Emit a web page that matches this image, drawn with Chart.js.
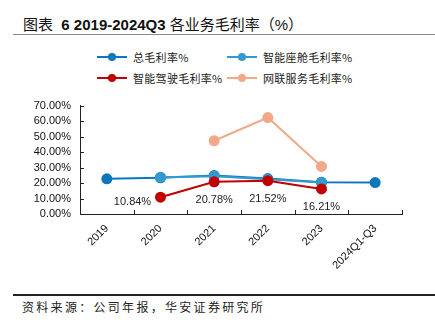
<!DOCTYPE html>
<html>
<head>
<meta charset="utf-8">
<script src="https://cdn.jsdelivr.net/npm/chart.js@4.4.0/dist/chart.umd.min.js"></script>
<style>
  body { margin: 0; width: 435px; height: 328px; background: #fff; position: relative; overflow: hidden;
         font-family: "Liberation Sans", "Noto Sans CJK SC", sans-serif; }
  #title { position: absolute; left: 23px; top: 13px; font-size: 15px; font-weight: bold; color: #111; white-space: nowrap; }
  #title .cn { font-weight: normal; }
  #topline { position: absolute; left: 13px; right: 0; top: 34px; height: 1px; background: #8a8a8a; }
  #botline { position: absolute; left: 13px; right: 0; top: 294px; height: 1.5px; background: #222; }
  #source { position: absolute; left: 22px; top: 298px; font-size: 12px; letter-spacing: 2.3px; color: #222;
            font-family: "Noto Sans CJK SC", sans-serif; }
  #legend { position: absolute; left: 0; top: 0; }
  .item { position: absolute; height: 14px; display: flex; align-items: center; font-size: 11px;
          font-family: "Noto Sans CJK SC", sans-serif; color: #222; white-space: nowrap; letter-spacing: 0.3px; }
  .mk { position: relative; width: 30px; height: 14px; margin-right: 6px; }
  .mk .ln { position: absolute; left: 0; right: 0; top: 6px; height: 2px; }
  .mk .dt { position: absolute; left: 11px; top: 3px; width: 8px; height: 8px; border-radius: 50%; }
  #wrap { position: absolute; left: 0; top: 90px; width: 435px; height: 200px; }
</style>
</head>
<body>
<div id="title"><span class="cn">图表</span>&nbsp; 6 2019-2024Q3 <span class="cn">各业务毛利率（%）</span></div>
<div id="topline"></div>
<div id="legend"></div>
<div id="wrap"><canvas id="c"></canvas></div>
<div id="botline"></div>
<div id="source">资料来源：公司年报，华安证券研究所</div>
<script>
const years = ['2019', '2020', '2021', '2022', '2023', '2024Q1-Q3'];
const totalMargin = [22.7, 23.4, 24.8, 22.9, 20.5, 20.3];
const cockpitMargin = [null, 23.8, 24.3, 22.4, 20.4, null];
const drivingMargin = [null, 10.84, 20.78, 21.52, 16.21, null];
const serviceMargin = [null, null, 47.3, 62.3, 30.7, null];
const yTicks = [0, 10, 20, 30, 40, 50, 60, 70];

const seriesNames = ['总毛利率%', '智能座舱毛利率%', '智能驾驶毛利率%', '网联服务毛利率%'];
const seriesColors = ['#0B78BD', '#3599D0', '#C00000', '#F2A98A'];
const seriesData = [totalMargin, cockpitMargin, drivingMargin, serviceMargin];
const drawOrder = [3, 2, 1, 1];

// legend, two columns
const legendPos = [[97, 50], [227, 50], [97, 71], [227, 71]];
const legend = document.getElementById('legend');
seriesNames.forEach(function (name, i) {
  const el = document.createElement('div');
  el.className = 'item';
  el.style.left = legendPos[i][0] + 'px';
  el.style.top = legendPos[i][1] + 'px';
  el.innerHTML = '<div class="mk"><div class="ln" style="background:' + seriesColors[i] +
    '"></div><div class="dt" style="background:' + seriesColors[i] + '"></div></div>' + name;
  legend.appendChild(el);
});

// inward ticks on both axes
const axisTicks = {
  id: 'axisTicks',
  afterDraw(chart) {
    const ctx = chart.ctx;
    const x = chart.scales.x, y = chart.scales.y;
    ctx.save();
    ctx.strokeStyle = '#222';
    ctx.lineWidth = 1;
    ctx.beginPath();
    yTicks.forEach(function (v) {
      const py = Math.round(y.getPixelForValue(v)) + 0.5;
      ctx.moveTo(x.left, py);
      ctx.lineTo(x.left + 4, py);
    });
    for (let i = 0; i < years.length; i++) {
      const px = Math.round((x.getPixelForTick(i) + (i + 1 < years.length ? x.getPixelForTick(i + 1) : x.right * 2 - x.getPixelForTick(i))) / 2) + 0.5;
      ctx.moveTo(px, y.bottom);
      ctx.lineTo(px, y.bottom - 4);
    }
    ctx.stroke();
    ctx.restore();
  }
};

// value labels under the driving series
const drivingLabels = {
  id: 'drivingLabels',
  afterDatasetsDraw(chart) {
    const ctx = chart.ctx;
    const meta = chart.getDatasetMeta(2);
    ctx.save();
    ctx.font = '11px "Liberation Sans", Arial, sans-serif';
    ctx.fillStyle = '#222';
    ctx.textAlign = 'center';
    ctx.textBaseline = 'middle';
    meta.data.forEach(function (pt, i) {
      const v = drivingMargin[i];
      if (v == null) return;
      let dx = 0, dy = 18.5;
      if (i === 1) { dx = -28; dy = 4.6; }
      ctx.fillText(v.toFixed(2) + '%', pt.x + dx, pt.y + dy);
    });
    ctx.restore();
  }
};

new Chart(document.getElementById('c').getContext('2d'), {
  type: 'line',
  data: {
    labels: years,
    datasets: seriesData.map(function (d, i) {
      return {
        label: seriesNames[i],
        data: d,
        borderColor: seriesColors[i],
        backgroundColor: seriesColors[i],
        pointBackgroundColor: seriesColors[i],
        pointBorderColor: seriesColors[i],
        borderWidth: 2,
        pointRadius: 4.5,
        pointHoverRadius: 4.5,
        tension: 0,
        spanGaps: false,
        order: drawOrder[i]
      };
    })
  },
  options: {
    responsive: true,
    maintainAspectRatio: false,
    animation: false,
    layout: { padding: { top: 15, right: 33, left: 0, bottom: 0 } },
    plugins: { legend: { display: false }, tooltip: { enabled: false } },
    scales: {
      x: {
        offset: true,
        grid: { display: false, drawTicks: false },
        border: { display: true, color: '#222', width: 1 },
        ticks: {
          color: '#111',
          padding: 8,
          autoSkip: false,
          minRotation: 45,
          maxRotation: 45,
          font: { family: '"Liberation Sans", Arial, sans-serif', size: 11 }
        },
        afterFit(scale) { scale.height = 76; }
      },
      y: {
        min: 0,
        max: 70,
        grid: { display: false, drawTicks: false },
        border: { display: true, color: '#222', width: 1 },
        afterBuildTicks(scale) { scale.ticks = yTicks.map(function (v) { return { value: v }; }); },
        ticks: {
          color: '#111',
          padding: 9,
          autoSkip: false,
          font: { family: '"Liberation Sans", Arial, sans-serif', size: 11 },
          callback: function (v) { return v.toFixed(2) + '%'; }
        },
        afterFit(scale) { scale.width = 80; }
      }
    }
  },
  plugins: [axisTicks, drivingLabels]
});
</script>
</body>
</html>
